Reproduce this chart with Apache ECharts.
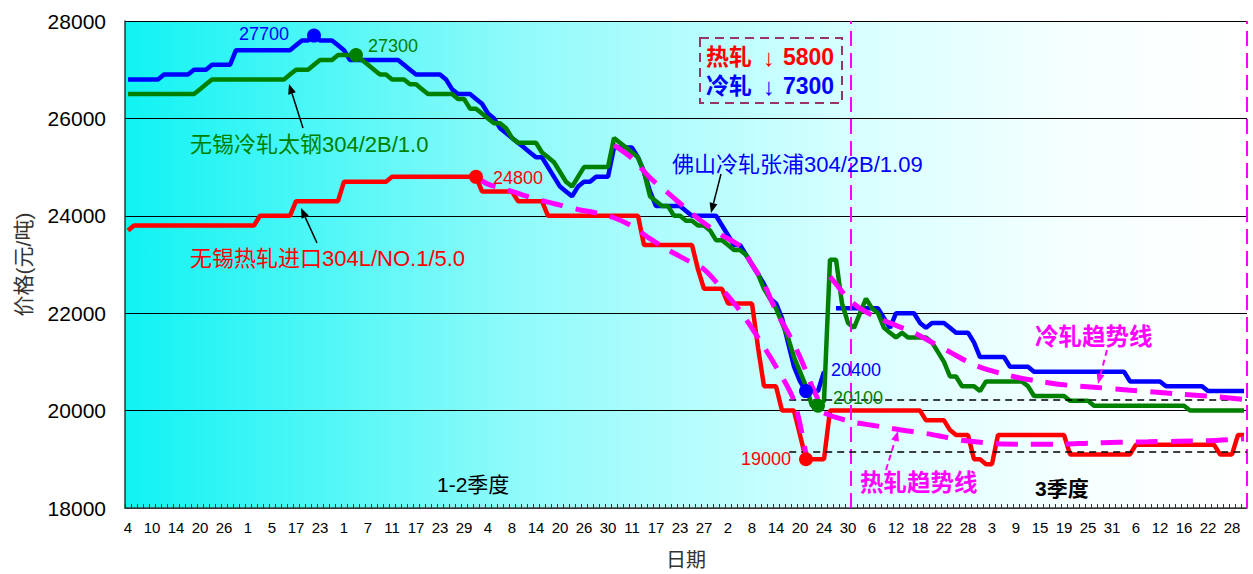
<!DOCTYPE html>
<html>
<head>
<meta charset="utf-8">
<script src="https://cdn.jsdelivr.net/npm/echarts@6/dist/echarts.min.js"></script>
<style>
  html, body { margin: 0; padding: 0; background: #fff; }
  #chart { width: 1253px; height: 574px; }
</style>
</head>
<body>
<div id="chart"></div>
<script>
// date labels shown every 4th trading day
const tickLabels = [4, 10, 14, 20, 26, 1, 5, 17, 23, 1, 7, 11, 17, 23, 29, 4, 8, 14, 20, 26, 30,
  11, 17, 23, 27, 2, 8, 14, 20, 24, 30, 6, 12, 18, 22, 28, 3, 9, 15, 19, 25, 31, 6, 12, 16, 22, 28];
const dayCount = 187;

// 佛山冷轧张浦304/2B/1.09
const coldFoshan = [
  26800, 26800, 26800, 26800, 26800, 26800, 26900, 26900, 26900, 26900,
  26900, 27000, 27000, 27000, 27100, 27100, 27100, 27100, 27400, 27400,
  27400, 27400, 27400, 27400, 27400, 27400, 27400, 27400, 27500, 27600,
  27600, 27700, 27600, 27600, 27600, 27500, 27400, 27200, 27200, 27200,
  27200, 27200, 27200, 27200, 27200, 27200, 27100, 27000, 26900, 26900,
  26900, 26900, 26900, 26800, 26600, 26500, 26500, 26500, 26400, 26300,
  26100, 26000, 25800, 25700, 25600, 25500, 25400, 25300, 25200, 25200,
  25000, 24800, 24600, 24500, 24400, 24600, 24700, 24700, 24800, 24800,
  24800, 25400, 25400, 25400, 25400, 25200, 24900, 24500, 24200, 24200,
  24200, 24200, 24200, 24100, 24000, 24000, 24000, 24000, 24000, 23800,
  23600, 23400, 23400, 23200, 23000, 22800, 22600, 22300, 22200, 21900,
  21400, 20900, 20600, 20400, 20400, 20400, 20800, null, 22100, 22100,
  22100, 22100, 22100, 22100, 22100, 22100, 21900, 21700, 22000, 22000,
  22000, 22000, 21800, 21700, 21800, 21800, 21800, 21700, 21600, 21600,
  21600, 21400, 21100, 21100, 21100, 21100, 21100, 20900, 20900, 20900,
  20900, 20800, 20800, 20800, 20800, 20800, 20800, 20800, 20800, 20800,
  20800, 20800, 20800, 20800, 20800, 20800, 20800, 20600, 20600, 20600,
  20600, 20600, 20600, 20500, 20500, 20500, 20500, 20500, 20500, 20500,
  20400, 20400, 20400, 20400, 20400, 20400, 20400
];

// 无锡冷轧太钢304/2B/1.0
const coldWuxi = [
  26500, 26500, 26500, 26500, 26500, 26500, 26500, 26500, 26500, 26500,
  26500, 26500, 26600, 26700, 26800, 26800, 26800, 26800, 26800, 26800,
  26800, 26800, 26800, 26800, 26800, 26800, 26800, 26900, 27000, 27000,
  27000, 27100, 27200, 27200, 27200, 27300, 27300, 27300, 27300, 27200,
  27100, 27000, 26900, 26900, 26800, 26800, 26800, 26700, 26700, 26600,
  26500, 26500, 26500, 26500, 26500, 26400, 26400, 26200, 26200, 26100,
  26000, 25900, 25900, 25800, 25600, 25500, 25500, 25500, 25500, 25300,
  25200, 25100, 24900, 24700, 24600, 24800, 25000, 25000, 25000, 25000,
  25000, 25600, 25500, 25400, 25300, 25200, 24900, 24400, 24300, 24200,
  24200, 24000, 24000, 23900, 23900, 23800, 23800, 23700, 23500, 23500,
  23400, 23300, 23300, 23200, 23000, 22800, 22500, 22300, 22100, 21800,
  21500, 21100, 20800, 20500, 20100, 20100, 20200, 23100, 23100, 22200,
  21800, 21700, 22000, 22300, 22100, 22000, 21700, 21600, 21500, 21600,
  21500, 21500, 21500, 21500, 21400, 21200, 21000, 20700, 20700, 20500,
  20500, 20500, 20400, 20600, 20600, 20600, 20600, 20600, 20600, 20600,
  20500, 20300, 20300, 20300, 20300, 20300, 20300, 20200, 20200, 20200,
  20200, 20100, 20100, 20100, 20100, 20100, 20100, 20100, 20100, 20100,
  20100, 20100, 20100, 20100, 20100, 20100, 20100, 20000, 20000, 20000,
  20000, 20000, 20000, 20000, 20000, 20000, 20000
];

// 无锡热轧进口304L/NO.1/5.0
const hotWuxi = [
  23700, 23800, 23800, 23800, 23800, 23800, 23800, 23800, 23800, 23800,
  23800, 23800, 23800, 23800, 23800, 23800, 23800, 23800, 23800, 23800,
  23800, 23800, 24000, 24000, 24000, 24000, 24000, 24000, 24300, 24300,
  24300, 24300, 24300, 24300, 24300, 24300, 24700, 24700, 24700, 24700,
  24700, 24700, 24700, 24700, 24800, 24800, 24800, 24800, 24800, 24800,
  24800, 24800, 24800, 24800, 24800, 24800, 24800, 24800, 24800, 24500,
  24500, 24500, 24500, 24500, 24500, 24300, 24300, 24300, 24300, 24300,
  24000, 24000, 24000, 24000, 24000, 24000, 24000, 24000, 24000, 24000,
  24000, 24000, 24000, 24000, 24000, 24000, 23400, 23400, 23400, 23400,
  23400, 23400, 23400, 23400, 23400, 22900, 22500, 22500, 22500, 22500,
  22200, 22200, 22200, 22200, 22200, 21300, 20500, 20500, 20500, 20000,
  20000, 20000, 19500, 19000, 19000, 19000, 19000, 20000, 20000, 20000,
  20000, 20000, 20000, 20000, 20000, 20000, 20000, 20000, 20000, 20000,
  20000, 20000, 20000, 19800, 19800, 19800, 19800, 19600, 19500, 19500,
  19500, 19000, 19000, 18900, 18900, 19500, 19500, 19500, 19500, 19500,
  19500, 19500, 19500, 19500, 19500, 19500, 19500, 19100, 19100, 19100,
  19100, 19100, 19100, 19100, 19100, 19100, 19100, 19100, 19300, 19300,
  19300, 19300, 19300, 19300, 19300, 19300, 19300, 19300, 19300, 19300,
  19300, 19300, 19100, 19100, 19100, 19500, 19500
];

// trend lines, [day index, price]
const coldTrendH1 = [[81, 25450], [84, 25180], [87, 24780], [90, 24470], [93, 24150], [96, 23850],
  [99, 23600], [102, 23380], [104, 23000], [106, 22600], [108, 22050], [110, 21600], [112, 21100],
  [114, 20500], [115, 20230]];
const coldTrendQ3 = [[117, 22750], [118, 22600], [120, 22300], [122, 22100], [125, 21900], [128, 21750],
  [131, 21600], [134, 21400], [137, 21200], [140, 21000], [143, 20850], [146, 20750], [149, 20660],
  [152, 20600], [156, 20530], [161, 20480], [166, 20430], [171, 20380], [176, 20330], [181, 20290],
  [186, 20230]];
const hotTrendH1 = [[58, 24800], [60, 24650], [63, 24540], [66, 24420], [69, 24310], [72, 24220],
  [75, 24130], [78, 24060], [81, 23960], [84, 23790], [87, 23530], [90, 23300], [93, 23100],
  [96, 22900], [99, 22500], [102, 22050], [105, 21500], [108, 20900], [111, 20200], [113, 19100]];
const hotTrendQ3 = [[116, 19950], [118, 19860], [121, 19760], [124, 19700], [127, 19640], [130, 19580],
  [133, 19530], [136, 19460], [139, 19390], [142, 19350], [145, 19320], [150, 19310], [155, 19310],
  [160, 19330], [165, 19350], [170, 19360], [175, 19370], [180, 19380], [186, 19420]];

// marked highs / lows
const coldFoshanMarks = [[31, 27700], [113, 20400]];
const coldWuxiMarks = [[38, 27300], [115, 20100]];
const hotWuxiMarks = [[58, 24800], [113, 19000]];

// quarter boundaries and support levels
const quarterEdges = [121, 187];
const supportLevels = [20230, 19150];
const supportStart = 110.7;

const categories = Array.from({ length: dayCount }, (_, i) =>
  i % 4 === 0 && tickLabels[i / 4] !== undefined ? String(tickLabels[i / 4]) : '');

const FONT = "'Liberation Sans', 'Noto Sans CJK SC', sans-serif";
const BLUE = '#0000FF', GREEN = '#008000', RED = '#FF0000', MAGENTA = '#FF00FF';

const chart = echarts.init(document.getElementById('chart'), null, { renderer: 'svg' });

function priceLine(name, data, color) {
  return {
    name, type: 'line', data, showSymbol: false, symbol: 'none',
    lineStyle: { color, width: 4.5 }, itemStyle: { color }, z: 3
  };
}

function trendLine(name, data) {
  return {
    name, type: 'line', data, showSymbol: false, symbol: 'none', smooth: 0.3,
    lineStyle: { color: MAGENTA, width: 5, type: [22, 13] }, z: 5
  };
}

function marks(name, data, color, labels) {
  return {
    name, type: 'scatter', data: data.map((d, k) => ({ value: d, label: labels[k] })),
    symbolSize: 14, itemStyle: { color, opacity: 1 }, z: 6,
    label: {
      show: true, color, fontSize: 18, fontFamily: FONT,
      formatter: p => String(p.value[1])
    }
  };
}

function arrow(x1, y1, x2, y2, color, width, dash) {
  const a = Math.atan2(y2 - y1, x2 - x1), L = 10, W = 4;
  const bx = x2 - L * Math.cos(a), by = y2 - L * Math.sin(a);
  return [
    { type: 'line', z: 100, shape: { x1, y1, x2: bx, y2: by },
      style: { stroke: color, lineWidth: width, lineDash: dash || null } },
    { type: 'polygon', z: 100,
      shape: { points: [[x2, y2], [bx - W * Math.sin(a), by + W * Math.cos(a)], [bx + W * Math.sin(a), by - W * Math.cos(a)]] },
      style: { fill: color } }
  ];
}

function note(text, x, y, color, size, weight) {
  return { type: 'text', z: 100, x, y,
    style: { text, fill: color, font: (weight || 'normal') + ' ' + size + 'px ' + FONT, verticalAlign: 'middle' } };
}

const option = {
  animation: false,
  grid: {
    left: 125, right: 6, top: 21, bottom: 66, show: true, borderWidth: 0,
    outerBoundsMode: 'none',
    backgroundColor: {
      type: 'linear', x: 0, y: 0, x2: 1, y2: 0,
      colorStops: [
        { offset: 0, color: '#10F3F3' },
        { offset: 0.35, color: '#90FAFA' },
        { offset: 0.65, color: '#D8FFFF' },
        { offset: 0.85, color: '#F6FFFF' },
        { offset: 1, color: '#FFFFFF' }
      ]
    }
  },
  xAxis: [{
    type: 'category', data: categories, boundaryGap: true,
    name: '日期', nameLocation: 'middle', nameGap: 42,
    nameTextStyle: { fontSize: 20, color: '#333', fontFamily: FONT },
    axisLine: { lineStyle: { color: '#444', width: 1.5 } },
    axisTick: { show: true, interval: 0, inside: true, length: 4, lineStyle: { color: '#333' } },
    axisLabel: { interval: 3, color: '#000', fontSize: 15, fontFamily: FONT, margin: 12 },
    splitLine: { show: false }
  }, {
    type: 'value', min: 0, max: dayCount, show: false
  }],
  yAxis: {
    type: 'value', min: 18000, max: 28000, interval: 2000,
    name: '价格(元/吨)', nameLocation: 'middle', nameGap: 91,
    nameTextStyle: { fontSize: 21, color: '#333', fontFamily: FONT },
    axisLine: { show: true, lineStyle: { color: '#1d3d3d', width: 1.5 } },
    axisTick: { show: false },
    axisLabel: { color: '#000', fontSize: 21, fontFamily: FONT, margin: 19, formatter: v => String(v) },
    splitLine: { show: true, lineStyle: { color: '#000', width: 1 } }
  },
  series: [
    priceLine('佛山冷轧张浦304/2B/1.09', coldFoshan, BLUE),
    priceLine('无锡冷轧太钢304/2B/1.0', coldWuxi, GREEN),
    priceLine('无锡热轧进口304L/NO.1/5.0', hotWuxi, RED),
    trendLine('冷轧趋势线', coldTrendH1),
    trendLine('冷轧趋势线', coldTrendQ3),
    trendLine('热轧趋势线', hotTrendH1),
    trendLine('热轧趋势线', hotTrendQ3),
    marks('冷轧佛山', coldFoshanMarks, BLUE, [
      { position: 'left', distance: 18, offset: [0, -2] },
      { position: 'right', offset: [13, -21] }
    ]),
    marks('冷轧无锡', coldWuxiMarks, GREEN, [
      { position: 'right', offset: [0, -9] },
      { position: 'right', offset: [3, -8] }
    ]),
    marks('热轧无锡', hotWuxiMarks, RED, [
      { position: 'right', offset: [5, 1] },
      { position: 'left', offset: [-3, 0] }
    ]),
    {
      name: 'guides', type: 'line', xAxisIndex: 1, data: [], z: 4,
      markLine: {
        silent: true, symbol: 'none', label: { show: false },
        data: [
          ...quarterEdges.map(x => ({ xAxis: x, lineStyle: { color: MAGENTA, width: 2, type: [15, 7] } })),
          ...supportLevels.map(v => [
            { coord: [supportStart, v], lineStyle: { color: '#000', width: 1.5, type: [7, 5] } },
            { coord: [dayCount, v] }
          ])
        ]
      }
    }
  ],
  graphic: [
    note('无锡冷轧太钢304/2B/1.0', 190, 144, GREEN, 22),
    note('无锡热轧进口304L/NO.1/5.0', 190, 258, RED, 22),
    note('佛山冷轧张浦304/2B/1.09', 672, 164, BLUE, 22),
    note('冷轧趋势线', 1035, 337, MAGENTA, 23.5, 'bold'),
    note('热轧趋势线', 860, 483, MAGENTA, 23.5, 'bold'),
    note('1-2季度', 437, 484, '#000', 21),
    note('3季度', 1035, 488, '#000', 21, 'bold'),
    ...arrow(303, 128, 289, 84, '#000', 1.5),
    ...arrow(317, 243, 301, 208, '#000', 1.5),
    ...arrow(721, 174, 711, 213, '#000', 1.5),
    ...arrow(1107, 350, 1098, 384, MAGENTA, 2, [6, 4]),
    ...arrow(886, 470, 898, 431, MAGENTA, 2, [6, 4]),
    { type: 'rect', z: 100, shape: { x: 700, y: 38, width: 142, height: 65 },
      style: { fill: null, stroke: '#993366', lineWidth: 2, lineDash: [9, 6] } },
    note('热轧', 706, 57, RED, 23, 'bold'),
    note('↓', 763, 57, RED, 24),
    note('5800', 783, 57, RED, 23, 'bold'),
    note('冷轧', 706, 86, BLUE, 23, 'bold'),
    note('↓', 763, 86, BLUE, 24),
    note('7300', 783, 86, BLUE, 23, 'bold')
  ]
};

chart.setOption(option);
</script>
</body>
</html>
